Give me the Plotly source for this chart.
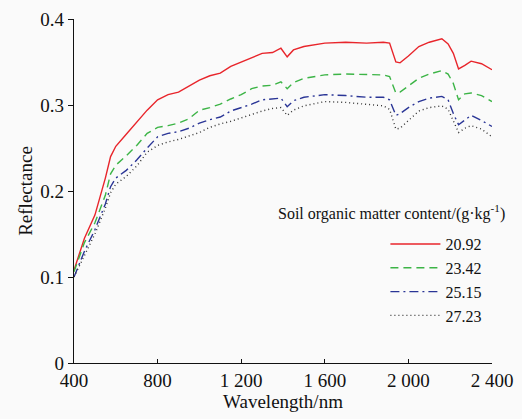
import plotly.graph_objects as go

wavelength = [400, 450, 500, 550, 575, 600, 650, 700, 750, 800, 850, 900, 950, 1000, 1050,
              1100, 1150, 1200, 1250, 1300, 1350, 1390, 1420, 1450, 1500, 1600, 1700,
              1800, 1880, 1910, 1940, 1960, 2000, 2050, 2100, 2160, 2190, 2215, 2240,
              2270, 2300, 2350, 2400]

som_20_92 = [0.108, 0.145, 0.172, 0.215, 0.240, 0.252, 0.266, 0.280, 0.294, 0.306, 0.312, 0.315,
             0.322, 0.329, 0.334, 0.337, 0.345, 0.350, 0.355, 0.360, 0.361, 0.366, 0.356,
             0.364, 0.368, 0.372, 0.373, 0.372, 0.373, 0.372, 0.350, 0.349, 0.357, 0.368,
             0.373, 0.377, 0.371, 0.360, 0.342, 0.346, 0.351, 0.348, 0.341]

som_23_42 = [0.106, 0.140, 0.163, 0.195, 0.220, 0.230, 0.241, 0.253, 0.267, 0.274, 0.276, 0.279,
             0.284, 0.294, 0.297, 0.301, 0.307, 0.312, 0.319, 0.322, 0.323, 0.327, 0.319,
             0.326, 0.331, 0.335, 0.336, 0.335, 0.335, 0.333, 0.314, 0.315, 0.322, 0.331,
             0.336, 0.340, 0.336, 0.325, 0.306, 0.313, 0.314, 0.311, 0.304]

som_25_15 = [0.100, 0.130, 0.155, 0.185, 0.205, 0.215, 0.224, 0.236, 0.250, 0.263, 0.267, 0.269,
             0.273, 0.279, 0.283, 0.286, 0.293, 0.297, 0.301, 0.306, 0.307, 0.308, 0.298,
             0.305, 0.309, 0.312, 0.311, 0.309, 0.309, 0.306, 0.288, 0.290, 0.297, 0.304,
             0.308, 0.310, 0.306, 0.290, 0.277, 0.283, 0.288, 0.282, 0.275]

som_27_23 = [0.100, 0.126, 0.150, 0.180, 0.198, 0.208, 0.217, 0.229, 0.245, 0.253, 0.257, 0.260,
             0.264, 0.268, 0.274, 0.278, 0.281, 0.285, 0.289, 0.293, 0.296, 0.297, 0.288,
             0.294, 0.299, 0.304, 0.303, 0.301, 0.299, 0.295, 0.272, 0.273, 0.282, 0.293,
             0.297, 0.299, 0.295, 0.281, 0.268, 0.273, 0.276, 0.272, 0.263]

series_names = ["20.92", "23.42", "25.15", "27.23"]
series_values = [som_20_92, som_23_42, som_25_15, som_27_23]

x_tickvals = [400, 800, 1200, 1600, 2000, 2400]
x_ticktext = ["400", "800", "1 200", "1 600", "2 000", "2 400"]
y_tickvals = [0, 0.1, 0.2, 0.3, 0.4]
y_ticktext = ["0", "0.1", "0.2", "0.3", "0.4"]

styles = [
    dict(color="#e8252b", dash="solid", width=1.4),
    dict(color="#3cb446", dash="8px,5px", width=1.4),
    dict(color="#2a3596", dash="9px,4px,2px,4px", width=1.4),
    dict(color="#333333", dash="1px,3px", width=1.4),
]

FONT = "Liberation Serif"

fig = go.Figure()
for name, vals, st in zip(series_names, series_values, styles):
    fig.add_trace(go.Scatter(x=wavelength, y=vals, mode="lines", name=name, line=st))

fig.update_layout(
    width=522, height=419,
    margin=dict(l=74, r=30, t=19, b=56),
    paper_bgcolor="#fafafa", plot_bgcolor="#fafafa",
    font=dict(family=FONT, size=18, color="#111111"),
    showlegend=True,
    legend=dict(x=0.745, y=0.395, xanchor="left", yanchor="top",
                bgcolor="rgba(0,0,0,0)", font=dict(size=16, family=FONT),
                tracegroupgap=0, itemwidth=50),
    annotations=[dict(text="Soil organic matter content/(g·kg<sup>-1</sup>)",
                      xref="paper", yref="paper", x=1.035, y=0.438,
                      xanchor="right", yanchor="middle", showarrow=False,
                      font=dict(size=16, family=FONT))],
)
fig.update_xaxes(range=[400, 2400], tickvals=x_tickvals, ticktext=x_ticktext,
                 showline=True, linecolor="#111", linewidth=1.2, ticks="inside",
                 ticklen=4, tickcolor="#111", showgrid=False, zeroline=False,
                 automargin=False,
                 title=dict(text="Wavelength/nm", standoff=4, font=dict(size=19, family=FONT)),
                 tickfont=dict(size=19, family=FONT))
fig.update_yaxes(range=[0, 0.4], tickvals=y_tickvals, ticktext=y_ticktext,
                 showline=True, linecolor="#111", linewidth=1.2, ticks="outside",
                 ticklen=5, tickcolor="#111", showgrid=False, zeroline=False,
                 automargin=False,
                 title=dict(text="Reflectance", standoff=2, font=dict(size=19, family=FONT)),
                 tickfont=dict(size=19, family=FONT))

fig.write_html("out.html", config={"displayModeBar": False},
               post_script="document.body.style.margin='0';document.body.style.background='#fafafa';")
